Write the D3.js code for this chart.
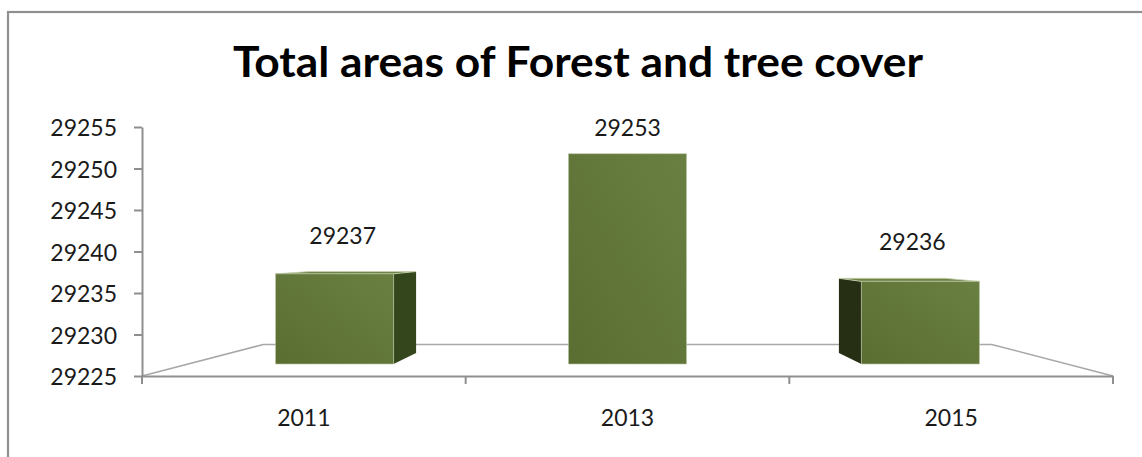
<!DOCTYPE html>
<html>
<head>
<meta charset="utf-8">
<script src="https://cdn.jsdelivr.net/npm/d3@7/dist/d3.min.js"></script>
<style>
  html, body { margin: 0; padding: 0; background: #fff; }
  svg { display: block; }
  text { font-family: Lato, "Noto Sans", sans-serif; }
</style>
</head>
<body>
<svg id="chart" width="1142" height="457"></svg>
<script>
// ---- data ----
const chartTitle = "Total areas of Forest and tree cover";
const categories = ["2011", "2013", "2015"];
const values = [29237, 29253, 29236];
const yTicks = [29225, 29230, 29235, 29240, 29245, 29250, 29255];

// ---- layout ----
const W = 1142, H = 457;
const svg = d3.select("#chart");

const x = d3.scaleBand().domain(categories).range([142, 1113]).paddingInner(0).paddingOuter(0);
const y = d3.scaleLinear().domain([yTicks[0], yTicks[yTicks.length - 1]]).range([376, 127]);

// simple perspective: depth factor f shrinks toward a vanishing point
const vp = { x: (x.range()[0] + x.range()[1]) / 2, y: 249.7 };
const proj = (px, py, f) => [vp.x + (px - vp.x) * f, vp.y + (py - vp.y) * f];
const DEPTH = { barFront: 0.905, barBack: 0.818, floorBack: 0.75, labelX: 0.88, labelY: 0.806 };
const barFrac = 0.403;

// outer frame
svg.append("rect")
  .attr("x", 8).attr("y", 12).attr("width", W + 20).attr("height", H + 20)
  .attr("fill", "#fff").attr("stroke", "#8f8f8f").attr("stroke-width", 2.2);

// title
svg.append("text")
  .attr("x", 578).attr("y", 77)
  .attr("text-anchor", "middle")
  .attr("font-size", 42).attr("font-weight", 700).attr("fill", "#000")
  .attr("textLength", 690).attr("lengthAdjust", "spacingAndGlyphs")
  .text(chartTitle);

// floor outline
const y0 = y.range()[0];
const xL = x.range()[0], xR = x.range()[1];
const floorPts = [[xL, y0], proj(xL, y0, DEPTH.floorBack), proj(xR, y0, DEPTH.floorBack), [xR, y0]];
svg.append("path")
  .attr("d", d3.line()(floorPts))
  .attr("fill", "none").attr("stroke", "#a8a8a8").attr("stroke-width", 1.6);

// gradient for front faces
const defs = svg.append("defs");
const grad = defs.append("linearGradient").attr("id", "frontGrad")
  .attr("x1", "0").attr("y1", "1").attr("x2", "1").attr("y2", "0");
grad.append("stop").attr("offset", "0").attr("stop-color", "#5a6e31");
grad.append("stop").attr("offset", "1").attr("stop-color", "#6a7f42");

// bars
const bars = svg.append("g");
categories.forEach((c, i) => {
  const cx = x(c) + x.bandwidth() / 2;
  const hw = x.bandwidth() * barFrac / 2;
  const l = cx - hw, r = cx + hw;
  const t = y(values[i]), b = y0;
  const F = DEPTH.barFront, B = DEPTH.barBack;
  const fTL = proj(l, t, F), fTR = proj(r, t, F), fBL = proj(l, b, F), fBR = proj(r, b, F);
  const bTL = proj(l, t, B), bTR = proj(r, t, B), bBL = proj(l, b, B), bBR = proj(r, b, B);
  const g = bars.append("g");
  // left side visible?
  if (bTL[0] < fTL[0]) {
    g.append("path").attr("d", d3.line()([fTL, bTL, bBL, fBL]) + "Z").attr("fill", "#262f14");
  }
  // right side visible?
  if (bTR[0] > fTR[0]) {
    g.append("path").attr("d", d3.line()([fTR, bTR, bBR, fBR]) + "Z").attr("fill", "#34461b");
  }
  // top visible?
  if (bTL[1] < fTL[1]) {
    g.append("path").attr("d", d3.line()([fTL, bTL, bTR, fTR]) + "Z")
      .attr("fill", "#6f8545").attr("stroke", "#c9d3b4").attr("stroke-width", 0.8);
  }
  g.append("path").attr("d", d3.line()([fTL, fTR, fBR, fBL]) + "Z")
    .attr("fill", "url(#frontGrad)").attr("stroke", "#b9c4a2").attr("stroke-width", 0.6);

  // value label
  const lx = proj(cx, t, DEPTH.labelX)[0];
  const ly = proj(cx, t, DEPTH.labelY)[1] - 36;
  svg.append("text")
    .attr("x", lx).attr("y", ly).attr("dy", "0.36em")
    .attr("text-anchor", "middle").attr("font-size", 23).attr("fill", "#1a1a1a")
    .text(values[i]);
});

// y axis
const yAxis = svg.append("g").attr("transform", `translate(${xL},0)`)
  .call(d3.axisLeft(y).tickValues(yTicks).tickSize(8).tickSizeOuter(0).tickPadding(17).tickFormat(d3.format("d")));
yAxis.select(".domain").attr("stroke", "#8f8f8f").attr("stroke-width", 2);
yAxis.selectAll(".tick line").attr("stroke", "#8f8f8f").attr("stroke-width", 2);
yAxis.selectAll(".tick text").attr("font-size", 23).attr("fill", "#1a1a1a").attr("dy", "0.38em")
  .style("font-family", "Lato, 'Noto Sans', sans-serif");

// x axis line + boundary ticks
const xAxis = svg.append("g").attr("transform", `translate(0,${y0})`)
  .call(d3.axisBottom(x).tickSize(0).tickSizeOuter(0).tickPadding(34));
xAxis.select(".domain").attr("stroke", "#8f8f8f").attr("stroke-width", 2);
xAxis.selectAll(".tick text").attr("font-size", 23).attr("fill", "#1a1a1a")
  .style("font-family", "Lato, 'Noto Sans', sans-serif");
const bounds = categories.map(c => x(c)).concat([xR]);
xAxis.selectAll("line.bound").data(bounds).join("line").attr("class", "bound")
  .attr("x1", d => d).attr("x2", d => d).attr("y1", 0).attr("y2", 8)
  .attr("stroke", "#8f8f8f").attr("stroke-width", 2);
</script>
</body>
</html>
